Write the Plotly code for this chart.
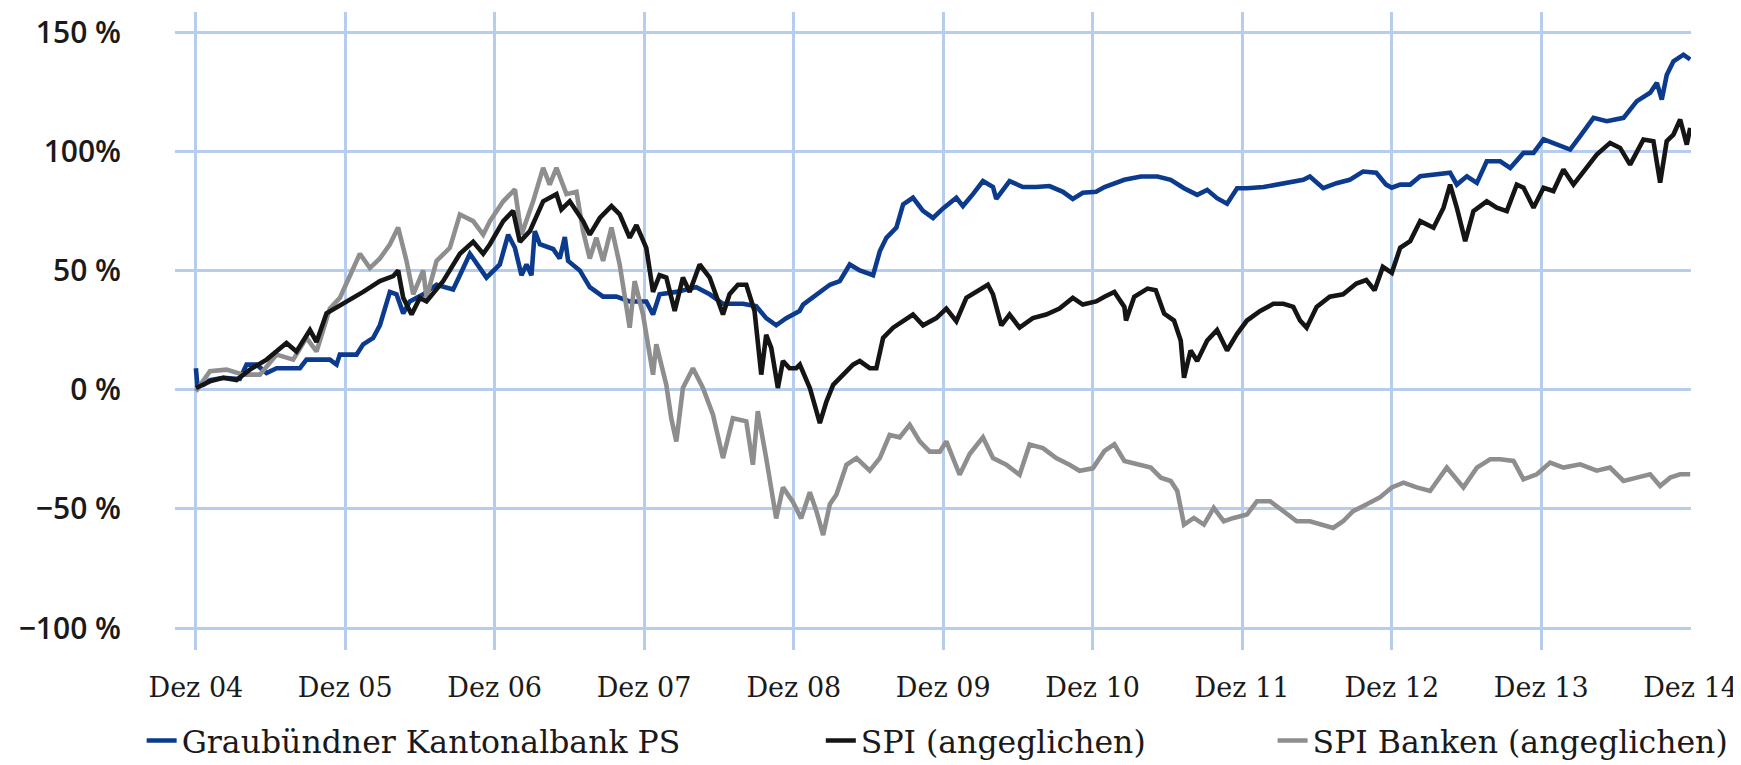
import pandas as pd
import plotly.graph_objects as go

# Jahre seit Dez 04 / Wertentwicklung in %
gkb_t = [0.0, 0.01, 0.049, 0.094, 0.183, 0.294, 0.339, 0.406, 0.473, 0.540, 0.696, 0.740, 0.896, 0.941,
         0.963, 1.075, 1.119, 1.186, 1.231, 1.298, 1.342, 1.387, 1.431, 1.521, 1.610, 1.721, 1.766,
         1.833, 1.900, 1.944, 2.033, 2.089, 2.134, 2.178, 2.212, 2.245, 2.267, 2.301, 2.390, 2.434,
         2.468, 2.490, 2.568, 2.635, 2.724, 2.813, 2.902, 3.013, 3.058, 3.102, 3.214, 3.347, 3.437,
         3.526, 3.659, 3.748, 3.815, 3.882, 3.949, 4.038, 4.062, 4.151, 4.241, 4.307, 4.374, 4.441,
         4.530, 4.575, 4.619, 4.686, 4.731, 4.797, 4.864, 4.931, 4.998, 5.087, 5.131, 5.198, 5.265,
         5.332, 5.354, 5.443, 5.532, 5.621, 5.710, 5.800, 5.866, 5.933, 6.022, 6.078, 6.211, 6.322,
         6.432, 6.521, 6.610, 6.698, 6.765, 6.831, 6.898, 6.965, 7.031, 7.142, 7.231, 7.319, 7.408,
         7.452, 7.541, 7.630, 7.718, 7.807, 7.896, 7.962, 8.0, 8.056, 8.123, 8.190, 8.279, 8.390,
         8.435, 8.502, 8.569, 8.635, 8.725, 8.792, 8.881, 8.948, 9.015, 9.104, 9.193, 9.260, 9.349,
         9.438, 9.550, 9.639, 9.728, 9.773, 9.806, 9.839, 9.884, 9.951, 9.996]
gkb_v = [9, 2, 2, 4, 5, 4.5, 10.5, 10.5, 7, 9, 9, 12.6, 12.6, 10.5,
         14.7, 14.7, 19, 21.7, 27, 41, 40, 32, 37, 40, 44, 42, 48,
         57, 51, 47, 52.5, 65, 59.5, 48, 52.5, 48, 66.5, 61, 59, 55,
         64, 54, 50, 43, 39, 39, 37, 37, 31.5, 40, 41, 43, 40,
         36, 36, 35, 30, 27, 30, 33, 35.7, 40, 44, 45.5, 52.5, 50,
         48, 58, 63.7, 68, 77.7, 80.5, 75, 72, 76, 80.5, 77, 82, 87.5,
         85, 80, 87.5, 85, 85, 85.4, 83, 80, 82.6, 83, 85, 88, 89.4,
         89.4, 88, 84.5, 81.7, 83.8, 80.3, 78, 84.5, 84.5, 85, 86, 87, 88,
         89.4, 84.5, 86.6, 88, 91.5, 91, 86, 84.7, 86, 86, 89.5, 90.2, 91,
         86, 89.5, 86.7, 95.8, 95.8, 93, 99.3, 99.3, 105, 102.8, 100.7, 106.3, 114,
         112.6, 114, 121, 124.5, 128.7, 121.7, 132, 137.7, 140.5, 138.5]

spi_t = [0.0, 0.094, 0.183, 0.272, 0.361, 0.473, 0.606, 0.673, 0.763, 0.807, 0.874, 0.986, 1.119,
         1.231, 1.320, 1.353, 1.387, 1.443, 1.498, 1.543, 1.654, 1.766, 1.855, 1.922, 1.967, 2.056,
         2.122, 2.167, 2.234, 2.323, 2.412, 2.445, 2.501, 2.590, 2.635, 2.702, 2.780, 2.835, 2.902,
         2.947, 3.013, 3.058, 3.102, 3.147, 3.203, 3.258, 3.303, 3.370, 3.437, 3.526, 3.570, 3.626,
         3.682, 3.737, 3.782, 3.815, 3.849, 3.893, 3.927, 3.971, 4.016, 4.040, 4.107, 4.174, 4.218,
         4.263, 4.330, 4.396, 4.441, 4.508, 4.552, 4.597, 4.664, 4.731, 4.797, 4.864, 4.953, 5.020,
         5.087, 5.154, 5.220, 5.298, 5.332, 5.388, 5.443, 5.510, 5.599, 5.688, 5.777, 5.866, 5.933,
         6.022, 6.078, 6.144, 6.211, 6.222, 6.277, 6.366, 6.421, 6.477, 6.543, 6.588, 6.610, 6.654,
         6.698, 6.765, 6.831, 6.898, 6.965, 7.031, 7.120, 7.208, 7.275, 7.341, 7.386, 7.430, 7.497,
         7.585, 7.674, 7.763, 7.829, 7.885, 7.940, 8.0, 8.056, 8.123, 8.190, 8.279, 8.346, 8.390,
         8.435, 8.491, 8.546, 8.635, 8.702, 8.769, 8.836, 8.881, 8.948, 9.015, 9.081, 9.148, 9.215,
         9.282, 9.371, 9.460, 9.527, 9.594, 9.683, 9.750, 9.795, 9.839, 9.884, 9.929, 9.973, 9.996]
spi_v = [0.7, 3.5, 5, 4, 8.4, 12.6, 19.6, 16, 25, 20, 32, 36, 41,
         45.5, 47.6, 50, 38.5, 31.5, 38.5, 37, 45.5, 57, 62, 57, 61, 70.7,
         75, 62, 66.5, 79, 82, 75.6, 79, 70.7, 65, 72, 77, 73.5, 63.7,
         69, 59.5, 41, 48, 47, 33, 47, 41, 52.5, 47, 31.5, 40, 44,
         44, 33, 6.3, 23, 17.5, 0.7, 12, 9, 9, 10.5, 0.7, -14, -5,
         2, 6.3, 10.5, 12, 9, 9, 21.7, 26, 28.7, 31.5, 27, 30, 34,
         28.7, 38.5, 41, 44, 40, 27, 31.5, 26, 30, 31.5, 34, 38.5, 35.7,
         37, 39, 41, 34.7, 29, 39, 42.4, 41.7, 31.9, 29, 20.6, 5, 16.4,
         12, 20.6, 25, 16.4, 23.4, 29, 33, 36, 36, 34.7, 29, 26, 34.7,
         39, 40, 44.5, 46, 41.7, 51.5, 49, 59.5, 62.3, 70.7, 67.9, 76.3, 86,
         76.3, 62.3, 74.9, 79, 76.3, 74.9, 86, 84.7, 76.3, 84.7, 83.3, 92.3, 86,
         91.6, 98.6, 103.5, 101.4, 94.4, 104.9, 104.2, 86.8, 104.2, 107, 113.3, 102.8, 109.8]

banken_t = [0.0, 0.094, 0.205, 0.317, 0.428, 0.540, 0.651, 0.740, 0.807, 0.896, 0.963, 1.030, 1.097,
            1.164, 1.231, 1.298, 1.353, 1.409, 1.454, 1.521, 1.543, 1.610, 1.699, 1.766, 1.855, 1.922,
            1.967, 2.056, 2.134, 2.178, 2.212, 2.256, 2.323, 2.367, 2.412, 2.479, 2.546, 2.590, 2.635,
            2.679, 2.724, 2.780, 2.835, 2.880, 2.902, 2.935, 2.991, 3.058, 3.080, 3.147, 3.180, 3.214,
            3.258, 3.325, 3.392, 3.459, 3.526, 3.592, 3.682, 3.726, 3.759, 3.815, 3.882, 3.927, 3.993,
            4.049, 4.107, 4.151, 4.196, 4.241, 4.285, 4.352, 4.419, 4.508, 4.575, 4.641, 4.708, 4.775,
            4.842, 4.909, 4.976, 5.020, 5.109, 5.176, 5.265, 5.332, 5.421, 5.510, 5.577, 5.666, 5.755,
            5.844, 5.911, 6.000, 6.078, 6.144, 6.211, 6.299, 6.388, 6.455, 6.521, 6.565, 6.610, 6.676,
            6.743, 6.809, 6.876, 6.942, 7.031, 7.098, 7.186, 7.275, 7.364, 7.452, 7.541, 7.608, 7.674,
            7.741, 7.829, 7.918, 8.0, 8.078, 8.167, 8.256, 8.368, 8.479, 8.569, 8.658, 8.725, 8.814,
            8.881, 8.970, 9.059, 9.148, 9.260, 9.371, 9.460, 9.550, 9.639, 9.728, 9.795, 9.862, 9.929,
            9.996]
banken_v = [-0.7, 7.7, 8.4, 6.3, 6.3, 14.7, 12.6, 21.7, 16, 34, 38.5, 48, 57,
            51, 55, 61, 68, 54, 40, 50, 38.5, 54, 59.5, 73.5, 70.7, 65,
            70.7, 79, 84, 65, 70.7, 79, 93, 86, 93, 82, 83, 66.5, 55,
            63.7, 54, 68, 52.5, 34, 26, 45.5, 31.5, 6.3, 19, 2, -12, -21.7,
            0.7, 9, 0.7, -10.5, -28.7, -12, -13.3, -31.5, -9, -28.7, -54, -41, -47,
            -54, -43, -51, -61, -48, -44, -31.5, -28.7, -34, -28.7, -19, -20, -14.7,
            -21.7, -26, -26, -21.7, -35.7, -27, -20, -28.7, -31.5, -35.7, -23, -24.5, -28.7,
            -31.5, -34, -33, -25.7, -22.9, -29.9, -31.3, -32.7, -36.9, -38.3, -42.5, -56.6, -53.8,
            -56.6, -49.6, -55.2, -53.8, -52.4, -46.8, -46.8, -51, -55.2, -55.2, -56.6, -58, -55.2,
            -51, -48.2, -45.3, -41, -39, -41, -42.5, -32.7, -41, -32.7, -29.2, -29.2, -29.9,
            -37.6, -35.5, -30.6, -32.7, -31.3, -34, -32.7, -38.3, -36.9, -35.5, -40.4, -36.9, -35.5,
            -35.5]

tick_years = list(range(2004, 2015))
tick_labels = ["Dez 04", "Dez 05", "Dez 06", "Dez 07", "Dez 08", "Dez 09",
               "Dez 10", "Dez 11", "Dez 12", "Dez 13", "Dez 14"]
y_ticks = [150, 100, 50, 0, -50, -100]
y_labels = ["150 %", "100%", "50 %", "0 %", "\u221250 %", "\u2212100 %"]

base = pd.Timestamp("2004-12-31")


def to_dates(ts):
    return [base + pd.Timedelta(days=t * 365.25) for t in ts]


GRID = "#b6cdee"
SERIF = "DejaVu Serif"

fig = go.Figure()
fig.add_trace(go.Scatter(x=to_dates(gkb_t), y=gkb_v, mode="lines",
                         name="Graubündner Kantonalbank PS",
                         line=dict(color="#0c3b8e", width=4.6), legend="legend"))
fig.add_trace(go.Scatter(x=to_dates(banken_t), y=banken_v, mode="lines",
                         name="SPI Banken (angeglichen)",
                         line=dict(color="#8e8e8e", width=4.6), legend="legend3"))
fig.add_trace(go.Scatter(x=to_dates(spi_t), y=spi_v, mode="lines",
                         name="SPI (angeglichen)",
                         line=dict(color="#151515", width=4.6), legend="legend2"))

tickvals = [pd.Timestamp(f"{y}-12-31") for y in tick_years]

leg_common = dict(orientation="h", yanchor="middle", xanchor="left",
                  font=dict(family=SERIF, size=31.5, color="#1a1a1a"),
                  bgcolor="rgba(0,0,0,0)", borderwidth=0, itemwidth=30)

# the page body adds an 8px offset, so the figure is 8px smaller to fit the window
fig.update_layout(
    width=1733, height=757,
    margin=dict(l=167, r=50, t=4, b=115, autoexpand=False),
    paper_bgcolor="white", plot_bgcolor="white",
    showlegend=True,
    legend=dict(x=-0.022, y=-0.142, **leg_common),
    legend2=dict(x=0.426, y=-0.142, **leg_common),
    legend3=dict(x=0.724, y=-0.142, **leg_common),
    xaxis=dict(
        range=[base - pd.Timedelta(days=51), pd.Timestamp("2014-12-31") + pd.Timedelta(days=1)],
        tickmode="array", tickvals=tickvals, ticktext=tick_labels,
        showgrid=True, gridcolor=GRID, gridwidth=3,
        zeroline=False, showline=False, ticks="", automargin=False,
        ticklabeloverflow="allow",
        tickfont=dict(family=SERIF, size=27, color="#1a1a1a"),
        ticklabelstandoff=19,
    ),
    yaxis=dict(
        range=[-109.2, 158.4],
        tickmode="array", tickvals=y_ticks, ticktext=y_labels,
        showgrid=True, gridcolor=GRID, gridwidth=3,
        zeroline=False, showline=False, ticks="", automargin=False,
        ticklabeloverflow="allow",
        tickfont=dict(family="Open Sans", size=30, color="#1a1a1a", weight=600),
        ticklabelstandoff=53,
    ),
)

fig.write_html("out.html")
